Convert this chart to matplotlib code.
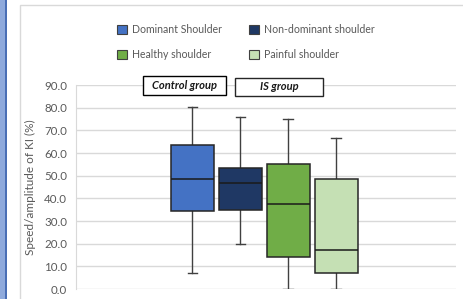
import matplotlib
matplotlib.use("Agg")
import matplotlib.pyplot as plt
from matplotlib.patches import Patch, Rectangle

plt.rcParams['font.family'] = ['Lato', 'DejaVu Sans']

# box statistics
series = ['Dominant Shoulder', 'Non-dominant shoulder', 'Healthy shoulder', 'Painful shoulder']
whis_lo = [6.9, 19.7, 0.0, 0.0]
q1 = [34.5, 34.8, 14.0, 6.9]
median = [48.4, 46.6, 37.4, 17.1]
q3 = [63.4, 53.5, 55.3, 48.4]
whis_hi = [80.4, 76.0, 74.9, 66.8]
colors = ['#4472c4', '#1f3864', '#70ad47', '#c5e0b4']
yticks = [0, 10, 20, 30, 40, 50, 60, 70, 80, 90]

W, H = 463, 299
fig = plt.figure(figsize=(W / 100, H / 100), dpi=100)

# white panel frame + blue stripe on the left
fig.patches.append(Rectangle((20 / W, -0.1), 1.2, 1 - 5 / H + 0.1, transform=fig.transFigure,
                             facecolor='white', edgecolor='#d9d9d9', linewidth=1.0, zorder=-2))
fig.patches.append(Rectangle((0, 0), 5 / W, 1, transform=fig.transFigure,
                             facecolor='#8faadc', edgecolor='none', zorder=-2))
fig.patches.append(Rectangle((5 / W, 0), 1.5 / W, 1, transform=fig.transFigure,
                             facecolor='#4a6fb5', edgecolor='none', zorder=-2))

ax = fig.add_axes([76 / W, (H - 289) / H, (456 - 76) / W, (289 - 85) / H])
ax.set_zorder(1)
ax.patch.set_alpha(0)

stats = []
for i in range(len(series)):
    stats.append({'label': series[i], 'whislo': whis_lo[i], 'q1': q1[i], 'med': median[i],
                  'q3': q3[i], 'whishi': whis_hi[i], 'fliers': []})
positions = list(range(1, len(series) + 1))
bp = ax.bxp(stats, positions=positions, widths=0.9, capwidths=0.2, patch_artist=True,
            showfliers=False,
            boxprops=dict(edgecolor='#262626', linewidth=1.1),
            medianprops=dict(color='#1a1a1a', linewidth=1.1),
            whiskerprops=dict(color='#404040', linewidth=1.0),
            capprops=dict(color='#404040', linewidth=1.0))
for patch, c in zip(bp['boxes'], colors):
    patch.set_facecolor(c)
    patch.set_zorder(3)
for m in bp['medians']:
    m.set_zorder(4)

ax.set_xlim(-1.43, 6.5)
ax.set_ylim(0, 90)
ax.set_yticks(yticks)
ax.set_yticklabels([f"{v:.1f}" for v in yticks])
ax.set_xticks([])
ax.tick_params(axis='y', length=0, pad=6.5, labelsize=8.3, labelcolor='#595959')
ax.grid(axis='y', color='#d9d9d9', linewidth=1.0, zorder=0)
ax.set_axisbelow(True)
for s in ['top', 'right', 'bottom']:
    ax.spines[s].set_visible(False)
ax.spines['left'].set_color('#d9d9d9')
ax.set_ylabel('Speed/amplitude of KI (%)', fontsize=8.5, color='#595959')
ax.yaxis.set_label_coords(-0.105, 0.5)

# legend (column-first order gives the two rows of the picture)
order = [0, 2, 1, 3]
handles = [Patch(facecolor=colors[i], edgecolor='#404040', linewidth=0.8) for i in order]
labels = [series[i] for i in order]
fig.legend(handles, labels, ncol=2, frameon=False, loc='upper left',
           bbox_to_anchor=(117 / W, 1 - 24 / H), fontsize=7.6, labelcolor='#595959',
           handlelength=0.95, handleheight=0.95, handletextpad=0.45,
           columnspacing=2.6, labelspacing=1.35, borderpad=0, borderaxespad=0)

# group labels
for txt, x0, x1, y0, y1, ec in [('Control group', 143, 226, 76, 95, '#000000'),
                                 ('IS group', 235, 323, 78, 96, '#262626')]:
    fig.patches.append(Rectangle((x0 / W, 1 - y1 / H), (x1 - x0) / W, (y1 - y0) / H,
                                 transform=fig.transFigure, facecolor='white',
                                 edgecolor=ec, linewidth=1.0, zorder=5))
    fig.text((x0 + x1) / 2 / W, 1 - (y0 + y1) / 2 / H, txt, ha='center', va='center',
             fontsize=8, fontweight='bold', fontstyle='italic', color='#1a1a1a', zorder=6)

fig.savefig('out.png', dpi=100)
